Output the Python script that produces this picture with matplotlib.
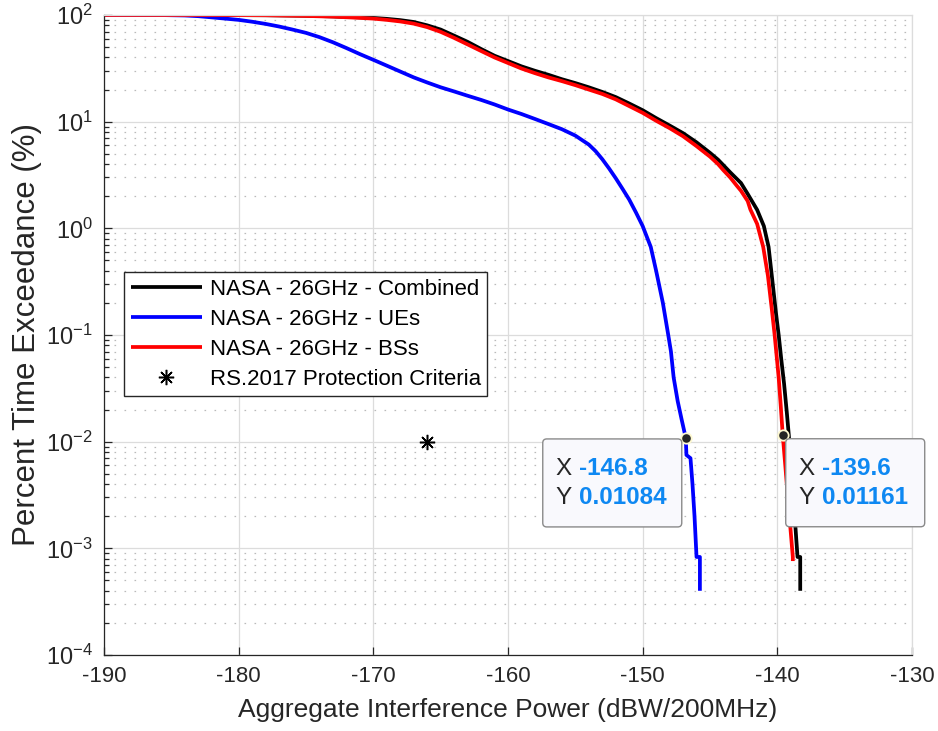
import matplotlib
matplotlib.use('Agg')
import matplotlib.pyplot as plt
from matplotlib.patches import FancyBboxPatch
from matplotlib.transforms import IdentityTransform
from matplotlib.ticker import LogLocator, NullFormatter

plt.rcParams['font.family'] = ['Liberation Sans', 'DejaVu Sans']
plt.rcParams['mathtext.fontset'] = 'custom'
plt.rcParams['mathtext.rm'] = 'Liberation Sans'
plt.rcParams['axes.unicode_minus'] = False

# Combined (black)
comb_x = [-190, -182, -178, -175, -173, -171, -170, -169, -168, -167, -166, -165, -164,
          -163, -162, -161, -160, -159, -158, -157, -156, -155, -154, -153, -152, -151,
          -150, -149, -148, -147, -146, -145, -144.4, -144, -143.5, -143, -142.7, -142.2,
          -141.5, -141, -140.65, -140.3, -140.1, -139.9, -139.7, -139.5, -139.3, -139.15,
          -139.0, -138.8, -138.6, -138.5, -138.3, -138.3]
comb_y = [100, 100, 99.5, 98.5, 97, 95, 94, 92, 89.5, 86, 80, 73, 64, 56, 48, 41.5, 37,
          33, 30, 27.5, 25, 23, 21, 19, 17, 14.8, 12.8, 10.8, 9.2, 7.8, 6.4, 5.1, 4.4,
          3.9, 3.35, 2.9, 2.66, 2.1, 1.49, 1.05, 0.67, 0.27, 0.16, 0.1, 0.058, 0.035,
          0.019, 0.0116, 0.0065, 0.0029, 0.00125, 8.3e-4, 8.3e-4, 4.0e-4]

# UEs (blue)
ue_x = [-190, -186, -184, -183, -182, -181, -180, -179, -178, -177, -176, -175, -174,
        -173, -172, -171, -170, -169, -168, -167, -166, -165, -164, -163, -162, -161,
        -160, -159, -158, -157, -156, -155, -154, -153.5, -153, -152.5, -152, -151.5,
        -151, -150.5, -150, -149.4, -149, -148.5, -148.1, -147.9, -147.7, -147.4, -147.1,
        -146.8, -146.75, -146.45, -146.3, -146.15, -146.0, -145.75, -145.75]
ue_y = [100, 100, 99, 97.5, 95, 92.5, 90, 86.5, 82.5, 78, 73, 68, 62, 55.5, 49, 43, 38,
        33.5, 29.5, 26, 23.3, 21, 19.2, 17.5, 16, 14.5, 13, 11.8, 10.6, 9.5, 8.5, 7.4,
        6.1, 5.3, 4.45, 3.65, 2.95, 2.35, 1.86, 1.41, 1.05, 0.67, 0.4, 0.2, 0.1, 0.07,
        0.04, 0.024, 0.016, 0.01084, 0.0075, 0.0070, 0.004, 0.002, 8.3e-4, 8.3e-4,
        4.0e-4]

# BSs (red)
bs_x = [-190, -182, -178, -175, -173, -171, -170, -169, -168, -167, -166, -165, -164,
        -163, -162, -161, -160, -159, -158, -157, -156, -155, -154, -153, -152, -151,
        -150, -149, -148, -147, -146, -145, -144.4, -144, -143.5, -143, -142.7, -142.2,
        -142, -141.5, -141.05, -140.7, -140.4, -140.2, -139.9, -139.75, -139.6, -139.4,
        -139.2, -139.0, -138.85, -138.85]
bs_y = [100, 100, 99.5, 98, 96.5, 94, 92.5, 90, 87, 83, 77, 69.5, 61, 53, 46, 40, 35.5,
        31.5, 28.5, 26, 24, 22, 20, 18.2, 16.2, 14, 12.1, 10.2, 8.7, 7.3, 5.9, 4.7, 4.0,
        3.5, 3.0, 2.5, 2.25, 1.8, 1.5, 1.1, 0.67, 0.36, 0.17, 0.1, 0.04, 0.022, 0.0116,
        0.0058, 0.0028, 0.0014, 8.3e-4, 7.6e-4]

# protection criteria point
crit_x = [-166]
crit_y = [0.01]

# data tips
tip_x = [-146.8, -139.6]
tip_y = [0.01084, 0.01161]
tip_xlabel = ['-146.8', '-139.6']
tip_ylabel = ['0.01084', '0.01161']
tip_side = ['left', 'right']

labels = ['NASA - 26GHz - Combined', 'NASA - 26GHz - UEs', 'NASA - 26GHz - BSs',
          'RS.2017 Protection Criteria']

dark = '#262626'

fig = plt.figure(figsize=(9.38, 7.31), dpi=100)
ax = fig.add_axes([104 / 938, 76 / 731, 808 / 938, 640 / 731])

lw = 2.7
line_kw = dict(lw=lw, solid_joinstyle='round', solid_capstyle='butt')
ax.plot(comb_x, comb_y, color='black', label=labels[0], **line_kw)
ax.plot(ue_x, ue_y, color='#0000ff', label=labels[1], **line_kw)
ax.plot(bs_x, bs_y, color='#ff0000', label=labels[2], **line_kw)
ax.plot(crit_x, crit_y, linestyle='none', marker=(8, 2, 0), ms=11, mew=1.1,
        color='black', label=labels[3])

ax.set_yscale('log')
ax.set_xlim(-190, -130)
ax.set_ylim(1e-4, 1e2)
ax.set_xticks(range(-190, -129, 10))
ax.yaxis.set_major_locator(LogLocator(base=10, numticks=10))
ax.yaxis.set_minor_locator(LogLocator(base=10, subs=range(2, 10), numticks=20))
ax.yaxis.set_minor_formatter(NullFormatter())

ax.set_axisbelow(True)
ax.grid(True, which='major', color='#dcdcdc', lw=0.9, ls='-')
ax.grid(True, which='minor', axis='y', color='#bababa', lw=0.9, ls=(0, (1.3, 6.7)))

ax.tick_params(which='both', direction='in', colors=dark, top=False, right=False)
ax.tick_params(axis='x', labelsize=16)
ax.tick_params(axis='y', labelsize=17)
ax.tick_params(which='major', length=6, width=0.9, pad=8)
ax.tick_params(which='minor', length=3.5, width=0.9)
for side in ['left', 'bottom']:
    ax.spines[side].set_color(dark)
    ax.spines[side].set_linewidth(0.9)
for side in ['top', 'right']:
    ax.spines[side].set_color('#dcdcdc')
    ax.spines[side].set_linewidth(0.9)

ax.set_xlabel('Aggregate Interference Power (dBW/200MHz)', fontsize=19, color=dark,
              labelpad=8)
ax.set_ylabel('Percent Time Exceedance (%)', fontsize=22.5, color=dark, labelpad=3)

leg = ax.legend(loc='upper left', bbox_to_anchor=(0.0248, 0.598), borderaxespad=0,
                fontsize=16, handlelength=3.2, handletextpad=0.35, labelspacing=0.4,
                borderpad=0.3, fancybox=False, framealpha=1, numpoints=1)
leg.get_frame().set_edgecolor(dark)
leg.get_frame().set_linewidth(1.0)

# data tips
fig.canvas.draw()
ident = IdentityTransform()
for x, y, xl, yl, side in zip(tip_x, tip_y, tip_xlabel, tip_ylabel, tip_side):
    ax.plot(x, y, 'o', ms=7.5, mfc=dark, mec='#fdf8d0', mew=1.3, zorder=6)
    px, py = ax.transData.transform((x, y))
    if side == 'left':
        x0, ytop = px - 143, py - 1
    else:
        x0, ytop = px + 3, py - 4
    w, h = 139, 88
    box = FancyBboxPatch((x0, ytop - h), w, h, boxstyle='round,pad=0,rounding_size=4',
                         fc='#f9f9fd', ec='#8a8a8a', lw=1.0, transform=ident,
                         zorder=7, clip_on=False)
    fig.add_artist(box)
    for dy, key, val in [(30, 'X', xl), (59, 'Y', yl)]:
        fig.text(x0 + 13, ytop - dy, key, transform=ident, fontsize=17.5, color=dark,
                 va='center', ha='left', zorder=8)
        fig.text(x0 + 36, ytop - dy, val, transform=ident, fontsize=17.5, color='#0e88f2',
                 fontweight='bold', va='center', ha='left', zorder=8)

fig.savefig('out.png', dpi=100)
